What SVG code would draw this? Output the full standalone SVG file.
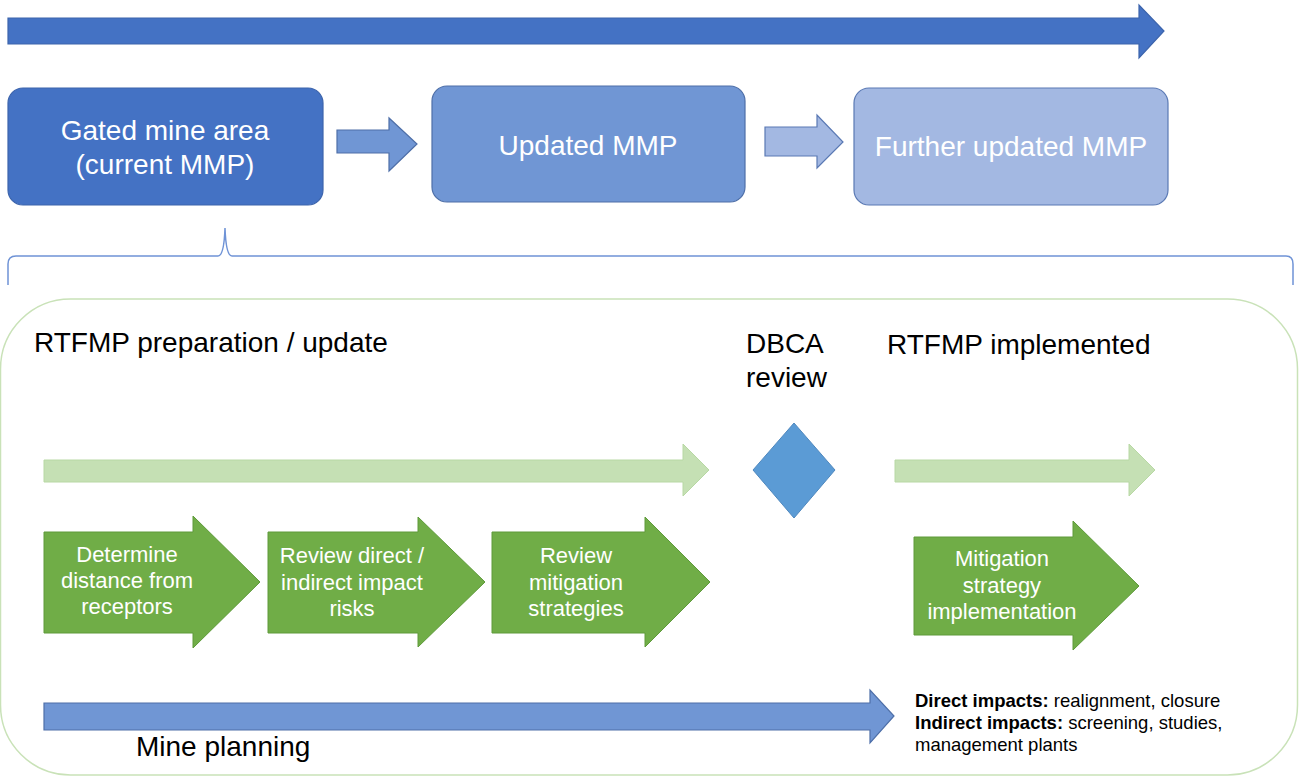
<svg xmlns="http://www.w3.org/2000/svg" width="1305" height="776" viewBox="0 0 1305 776">
<style>
text{font-family:"Liberation Sans",Arial,sans-serif}
.w{fill:#fff;font-size:28px;text-anchor:middle}
.gw{fill:#fff;font-size:22px;text-anchor:middle}
.h{fill:#000;font-size:28px}
.s{fill:#000;font-size:18.5px}
.b1{fill:#4472C4;stroke:#3C64AC;stroke-width:1.2}
.b2{fill:#7096D4;stroke:#4E6FA8;stroke-width:1.2}
.b3{fill:#A3B8E2;stroke:#5A79B4;stroke-width:1.2}
.ga{fill:#70AD47;stroke:#5E9A3A;stroke-width:1}
.lg{fill:#C5E0B4;stroke:#B8D8A4;stroke-width:1}
</style>
<rect width="1305" height="776" fill="#fff"/>
<g id="timeline">
<path class="b1" d="M8,18 H1139 V5 L1164,31 L1139,58 V44 H8 Z"/>
</g>
<g id="node-gated">
<rect class="b1" x="8" y="88" width="315" height="117" rx="15"/>
<text class="w" x="165" y="140">Gated mine area</text>
<text class="w" x="165" y="174">(current MMP)</text>
</g>
<g id="node-updated">
<rect class="b2" x="432" y="86" width="313" height="116" rx="15"/>
<text class="w" x="588" y="155">Updated MMP</text>
</g>
<g id="node-further">
<rect class="b3" x="854" y="88" width="314" height="117" rx="15"/>
<text class="w" x="1011" y="156">Further updated MMP</text>
</g>
<g id="connectors">
<path class="b2" d="M337,130 H389 V118 L417,144 L389,171 V153 H337 Z"/>
<path class="b3" d="M765,127 H817 V115 L843,142 L817,168 V156 H765 Z"/>
<path d="M8,285 V264 Q8,256 16,256 H218 Q224,256 225,228 Q226,256 232,256 H1286 Q1293,256 1293,264 V285" fill="none" stroke="#6F93D6" stroke-width="1.5"/>
</g>
<g id="rtfmp-panel">
<rect x="0.5" y="299" width="1297" height="476" rx="70" fill="none" stroke="#C9E2B8" stroke-width="1.5"/>
<text class="h" x="34" y="352">RTFMP preparation / update</text>
<text class="h" x="746" y="353">DBCA</text>
<text class="h" x="746" y="387">review</text>
<text class="h" x="887" y="354">RTFMP implemented</text>
</g>
<g id="prep-arrow">
<path class="lg" d="M44,460 H683 V444 L709,470 L683,496 V482 H44 Z"/>
</g>
<g id="dbca-review">
<path d="M794,423 L835,470 L794,518 L753,470 Z" fill="#5B9BD5" stroke="#4F88BE" stroke-width="1"/>
</g>
<g id="impl-arrow">
<path class="lg" d="M895,460 H1129 V444 L1155,470 L1129,496 V482 H895 Z"/>
</g>
<g id="step-determine">
<path class="ga" d="M44,532 H193 V516 L260,582 L193,648 V633 H44 Z"/>
<text class="gw" x="127" y="562">Determine</text>
<text class="gw" x="127" y="588">distance from</text>
<text class="gw" x="127" y="614">receptors</text>
</g>
<g id="step-review-risks">
<path class="ga" d="M268,532 H418 V517 L485,582 L418,647 V633 H268 Z"/>
<text class="gw" x="352" y="563">Review direct /</text>
<text class="gw" x="352" y="590">indirect impact</text>
<text class="gw" x="352" y="616">risks</text>
</g>
<g id="step-review-mitigation">
<path class="ga" d="M492,532 H645 V517 L710,582 L645,647 V633 H492 Z"/>
<text class="gw" x="576" y="563">Review</text>
<text class="gw" x="576" y="590">mitigation</text>
<text class="gw" x="576" y="616">strategies</text>
</g>
<g id="step-implementation">
<path class="ga" d="M914,537 H1073 V521 L1139,586 L1073,650 V635 H914 Z"/>
<text class="gw" x="1002" y="566">Mitigation</text>
<text class="gw" x="1002" y="593">strategy</text>
<text class="gw" x="1002" y="619">implementation</text>
</g>
<g id="mine-planning">
<path class="b2" d="M44,703 H870 V690 L894,716 L870,743 V730 H44 Z"/>
<text class="h" x="136" y="756">Mine planning</text>
</g>
<g id="impacts-note">
<text class="s" x="915" y="707"><tspan font-weight="bold">Direct impacts:</tspan> realignment, closure</text>
<text class="s" x="915" y="729"><tspan font-weight="bold">Indirect impacts:</tspan> screening, studies,</text>
<text class="s" x="915" y="751">management plants</text>
</g>
</svg>
